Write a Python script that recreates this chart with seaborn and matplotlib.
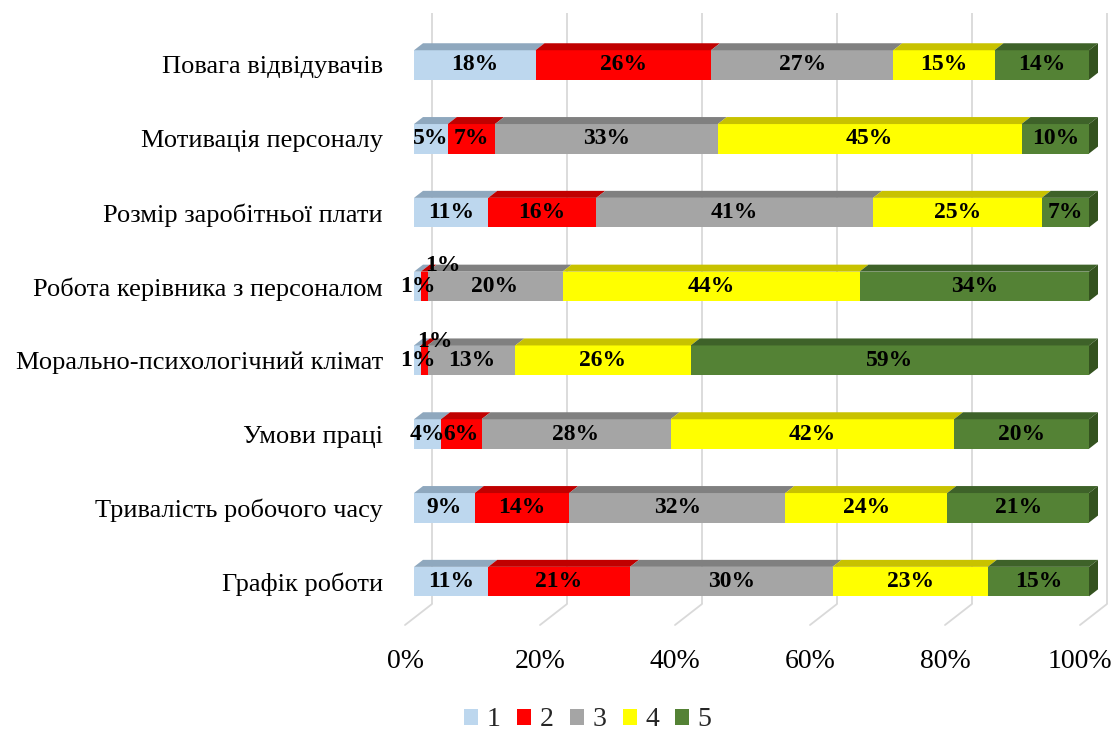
import numpy as np
import pandas as pd
import matplotlib
matplotlib.use("Agg")
import matplotlib.pyplot as plt
import seaborn as sns
from matplotlib.patches import Polygon, Patch

# ---------------- data ----------------
categories = [
    "Повага відвідувачів",
    "Мотивація персоналу",
    "Розмір заробітньої плати",
    "Робота керівника з персоналом",
    "Морально-психологічний клімат",
    "Умови праці",
    "Тривалість робочого часу",
    "Графік роботи",
]
series_names = ["1", "2", "3", "4", "5"]
s1 = [18, 5, 11, 1, 1, 4, 9, 11]
s2 = [26, 7, 16, 1, 1, 6, 14, 21]
s3 = [27, 33, 41, 20, 13, 28, 32, 30]
s4 = [15, 45, 25, 44, 26, 42, 24, 23]
s5 = [14, 10, 7, 34, 59, 20, 21, 15]
tick_values = [0, 20, 40, 60, 80, 100]
tick_labels = ["0%", "20%", "40%", "60%", "80%", "100%"]

series = [s1, s2, s3, s4, s5]

# ---------------- style ----------------
front_colors = ["#BDD7EE", "#FF0000", "#A5A5A5", "#FFFF00", "#548235"]
top_colors = ["#8FA8BE", "#C00000", "#808080", "#C8C200", "#3E6229"]
side_colors = ["#7D94A8", "#A00000", "#6E6E6E", "#AEA900", "#34521F"]
grid_color = "#D9D9D9"
serif = ["Liberation Serif", "DejaVu Serif"]

sns.set_theme(style="white")
plt.rcParams["font.family"] = serif

W, H = 1113, 731
fig = plt.figure(figsize=(W / 100, H / 100), dpi=100)

# layout in pixels
x0_px, x100_px = 414, 1089
row0_px, row_step_px = 65, 73.8
ax_left_px, ax_right_px = 395, 1110
ax_top_px, ax_bot_px = 10, 630
ppu_x = (x100_px - x0_px) / 100.0

def ydata(px):
    return (px - row0_px) / row_step_px

ax = fig.add_axes([ax_left_px / W, 1 - ax_bot_px / H,
                   (ax_right_px - ax_left_px) / W, (ax_bot_px - ax_top_px) / H])

df = pd.DataFrame({"category": categories})
cum = np.zeros(len(categories))
cums = []
for k, s in enumerate(series):
    cum = cum + np.array(s, dtype=float)
    cums.append(cum.copy())
    df[f"cum{k}"] = cum.copy()

bar_h = 29.5 / row_step_px
# stacked front faces: draw cumulative totals from largest to smallest
for k in reversed(range(len(series))):
    sns.barplot(data=df, x=f"cum{k}", y="category", orient="h", color=front_colors[k],
                saturation=1, width=bar_h, errorbar=None, linewidth=0, ax=ax, zorder=3)

# 3D faces
ddx = 9 / ppu_x
ddy = 7 / row_step_px
for i in range(len(categories)):
    yt = i - bar_h / 2
    yb = i + bar_h / 2
    left = 0.0
    for k in range(len(series)):
        right = cums[k][i]
        poly = Polygon([(left, yt), (right, yt), (right + ddx, yt - ddy), (left + ddx, yt - ddy)],
                       closed=True, facecolor=top_colors[k], edgecolor="none", zorder=3)
        ax.add_patch(poly)
        left = right
    side = Polygon([(left, yt), (left + ddx, yt - ddy), (left + ddx, yb - ddy), (left, yb)],
                   closed=True, facecolor=side_colors[-1], edgecolor="none", zorder=3)
    ax.add_patch(side)

# back-wall gridlines and floor diagonals
back_dx = 18 / ppu_x
floor_dx = -9 / ppu_x
for t in tick_values:
    ax.plot([t + back_dx, t + back_dx], [ydata(13), ydata(604)], color=grid_color, lw=1.3,
            zorder=1, clip_on=False, solid_capstyle="butt")
    ax.plot([t + back_dx, t + floor_dx], [ydata(604), ydata(625)], color=grid_color, lw=1.3,
            zorder=1, clip_on=False)

# tick labels
for t, lab in zip(tick_values, tick_labels):
    ax.text(t + floor_dx, ydata(661), lab, ha="center", va="center", fontsize=20,
            color="#000000", clip_on=False)

# data labels
label_offsets = {(3, 1): (19, 21), (4, 1): (11, 19)}
for i in range(len(categories)):
    left = 0.0
    for k, s in enumerate(series):
        v = s[i]
        right = cums[k][i]
        xc = (left + right) / 2
        off = label_offsets.get((i, k), (0, 0))
        ax.annotate(f"{v}%", xy=(xc, i), xytext=(off[0] * 0.72, off[1] * 0.72),
                    textcoords="offset points", ha="center", va="center",
                    fontsize=17, fontweight="bold", color="#000000", zorder=5,
                    annotation_clip=False)
        left = right

ax.set_xlim((ax_left_px - x0_px) / ppu_x, (ax_right_px - x0_px) / ppu_x)
ax.set_ylim(ydata(ax_bot_px), ydata(ax_top_px))
ax.set_xticks([])
ax.set_yticks(range(len(categories)))
ax.set_yticklabels(categories, fontsize=19, color="#000000")
ax.tick_params(axis="y", length=0, pad=(ax_left_px - 383) * 0.72)
ax.set_xlabel("")
ax.set_ylabel("")
for sp in ax.spines.values():
    sp.set_visible(False)
ax.set_facecolor("none")

handles = [Patch(facecolor=c, edgecolor="none", label=n) for c, n in zip(front_colors, series_names)]
fig.legend(handles=handles, loc="center", bbox_to_anchor=(588 / W, 1 - 720 / H), ncol=5,
           frameon=False, fontsize=20, handlelength=0.5, handleheight=0.5,
           handletextpad=0.3, columnspacing=0.6, borderaxespad=0)

fig.savefig("out.png", dpi=100, facecolor="white")
